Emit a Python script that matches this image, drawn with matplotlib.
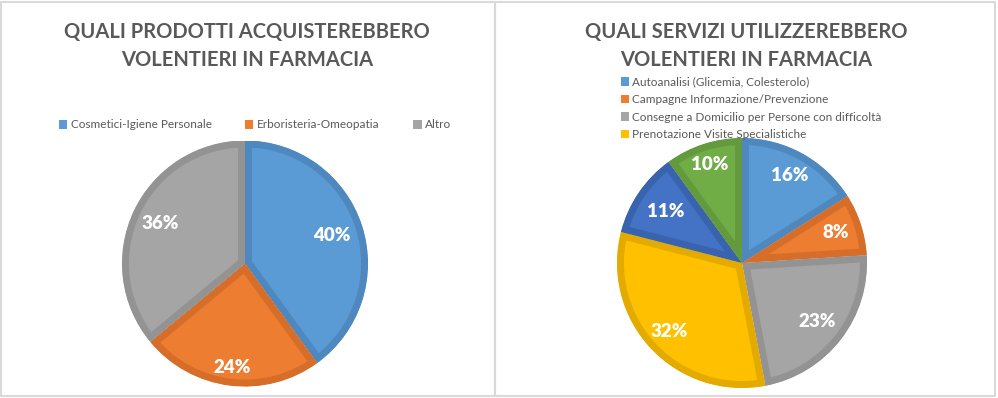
import matplotlib
matplotlib.use("Agg")
import matplotlib.pyplot as plt
import matplotlib.patches as mpatches
import numpy as np

# ── data ────────────────────────────────────────────────────────────
prodotti_labels = ["Cosmetici-Igiene Personale", "Erboristeria-Omeopatia", "Altro"]
prodotti_vals = [40, 24, 36]

servizi_labels = ["Autoanalisi (Glicemia, Colesterolo)",
                  "Campagne Informazione/Prevenzione",
                  "Consegne a Domicilio per Persone con difficoltà",
                  "Prenotazione Visite Specialistiche"]
servizi_vals = [16, 8, 23, 32, 11, 10]

# ── style ───────────────────────────────────────────────────────────
FILL = ["#5B9BD5", "#ED7D31", "#A5A5A5", "#FFC000", "#4472C4", "#70AD47"]
EDGE = ["#4E88BE", "#D66D28", "#939393", "#E3AB00", "#3A63AD", "#629A3D"]
TXT = "#595959"
FONT = "Lato"
W, H = 998, 398

fig = plt.figure(figsize=(W / 100, H / 100), dpi=100)
fig.patch.set_facecolor("white")

# panel frames
frame = fig.add_axes([0, 0, 1, 1])
frame.set_xlim(0, W)
frame.set_ylim(H, 0)
frame.axis("off")
for x0, x1 in [(1.5, 495.5), (495.5, 995.5)]:
    frame.add_patch(mpatches.Rectangle((x0, 1.5), x1 - x0, 394.5, fill=False,
                                       edgecolor="#D9D9D9", linewidth=1.5))


def pie_axes(cx, cy, r):
    return fig.add_axes([(cx - r) / W, (H - cy - r) / H, 2 * r / W, 2 * r / H])


def draw_pie(ax, vals, dists):
    wedges, _ = ax.pie(vals, colors=FILL[:len(vals)], startangle=90,
                       counterclock=False, radius=1)
    ax.set_xlim(-1, 1)
    ax.set_ylim(-1, 1)
    ax.set_aspect("equal")
    ax.axis("off")
    for i, w in enumerate(wedges):
        # inner border: double-width stroke clipped to the wedge itself
        w.set_edgecolor(EDGE[i])
        w.set_linewidth(10)
        w.set_joinstyle("miter")
        w.set_clip_on(True)
        w.set_clip_path(w)
        ang = np.deg2rad((w.theta1 + w.theta2) / 2)
        d = dists[i]
        ax.text(d * np.cos(ang), d * np.sin(ang), f"{vals[i]}%",
                ha="center", va="center", color="white",
                fontsize=13.5, fontweight="heavy", family=FONT)
    return wedges


# ── left: prodotti ─────────────────────────────────────────────────
axl = pie_axes(245, 263.5, 123)
draw_pie(axl, prodotti_vals, [0.74, 0.85, 0.76])

fig.text(247 / W, 1 - 46 / H, "QUALI PRODOTTI ACQUISTEREBBERO\nVOLENTIERI IN FARMACIA",
         ha="center", va="center", color=TXT, fontsize=14.5, fontweight="bold",
         family=FONT, linespacing=1.5)

hl = [mpatches.Patch(facecolor=FILL[i], edgecolor="none", label=l)
      for i, l in enumerate(prodotti_labels)]
fig.legend(handles=hl, loc="center", bbox_to_anchor=(255 / W, 1 - 125 / H),
           ncol=3, frameon=False, handlelength=0.7, handleheight=0.7,
           handletextpad=0.3, columnspacing=2.85, labelcolor=TXT,
           prop={"family": FONT, "size": 8.5})

# ── right: servizi ─────────────────────────────────────────────────
axr = pie_axes(742, 263, 125)
draw_pie(axr, servizi_vals, [0.8, 0.79, 0.76, 0.8, 0.74, 0.83])

fig.text(746 / W, 1 - 46 / H, "QUALI SERVIZI UTILIZZEREBBERO\nVOLENTIERI IN FARMACIA",
         ha="center", va="center", color=TXT, fontsize=14.5, fontweight="bold",
         family=FONT, linespacing=1.5)

hr = [mpatches.Patch(facecolor=FILL[i], edgecolor="none", label=l)
      for i, l in enumerate(servizi_labels)]
fig.legend(handles=hr, loc="upper left", bbox_to_anchor=(610 / W, 1 - 66 / H),
           ncol=1, frameon=False, handlelength=0.7, handleheight=0.7,
           handletextpad=0.3, labelspacing=0.55, labelcolor=TXT,
           prop={"family": FONT, "size": 8.5})

fig.savefig("out.png", dpi=100, facecolor="white")
